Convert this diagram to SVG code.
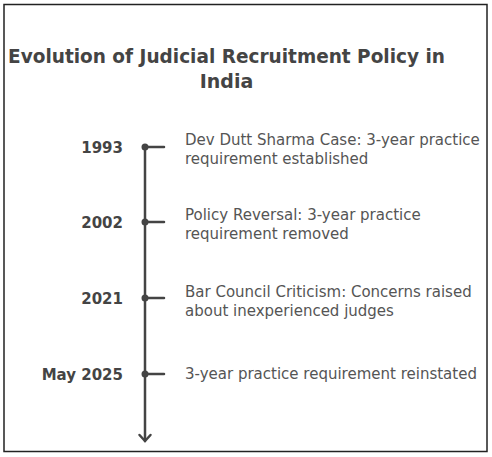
<svg xmlns="http://www.w3.org/2000/svg" width="492" height="457" viewBox="0 0 492 457">
<defs>
<style>
.title{font-family:"DejaVu Sans","Liberation Sans",sans-serif;font-weight:bold;font-size:19px;fill:#444;}
.year{font-family:"DejaVu Sans","Liberation Sans",sans-serif;font-weight:bold;font-size:15px;fill:#444;text-anchor:end;}
.desc{font-family:"DejaVu Sans","Liberation Sans",sans-serif;font-size:15px;fill:#555;}
.ln{stroke:#444;stroke-width:2.5;fill:none;stroke-linecap:round;}
.dot{fill:#444;}
</style>
</defs>
<rect x="0" y="0" width="492" height="457" fill="#fff"/>
<rect x="4" y="4.5" width="483" height="447" fill="#fff" stroke="#222" stroke-width="1.5"/>
<g id="title">
<text class="title" x="8" y="63" textLength="437" lengthAdjust="spacingAndGlyphs">Evolution of Judicial Recruitment Policy in</text>
<text class="title" x="226.5" y="88" text-anchor="middle">India</text>
</g>
<g id="connectors">
<line class="ln" x1="145" y1="147" x2="145" y2="441" stroke-width="2"/>
<path class="ln" d="M139.5 435 L145 441 L150.5 435" stroke-width="1.8"/>
<line class="ln" x1="145" y1="147" x2="164" y2="147"/>
<line class="ln" x1="145" y1="222" x2="164" y2="222"/>
<line class="ln" x1="145" y1="298" x2="164" y2="298"/>
<line class="ln" x1="145" y1="374" x2="164" y2="374"/>
</g>
<g id="node-1993">
<circle class="dot" cx="145" cy="147" r="3.5"/>
<text class="year" x="123" y="152.5">1993</text>
<text class="desc" x="185" y="145">Dev Dutt Sharma Case: 3-year practice</text>
<text class="desc" x="185" y="164">requirement established</text>
</g>
<g id="node-2002">
<circle class="dot" cx="145" cy="222" r="3.5"/>
<text class="year" x="123" y="227.5">2002</text>
<text class="desc" x="185" y="220">Policy Reversal: 3-year practice</text>
<text class="desc" x="185" y="239">requirement removed</text>
</g>
<g id="node-2021">
<circle class="dot" cx="145" cy="298" r="3.5"/>
<text class="year" x="123" y="303.5">2021</text>
<text class="desc" x="185" y="297">Bar Council Criticism: Concerns raised</text>
<text class="desc" x="185" y="316">about inexperienced judges</text>
</g>
<g id="node-2025">
<circle class="dot" cx="145" cy="374" r="3.5"/>
<text class="year" x="123" y="379.5">May 2025</text>
<text class="desc" x="185" y="379">3-year practice requirement reinstated</text>
</g>
</svg>
